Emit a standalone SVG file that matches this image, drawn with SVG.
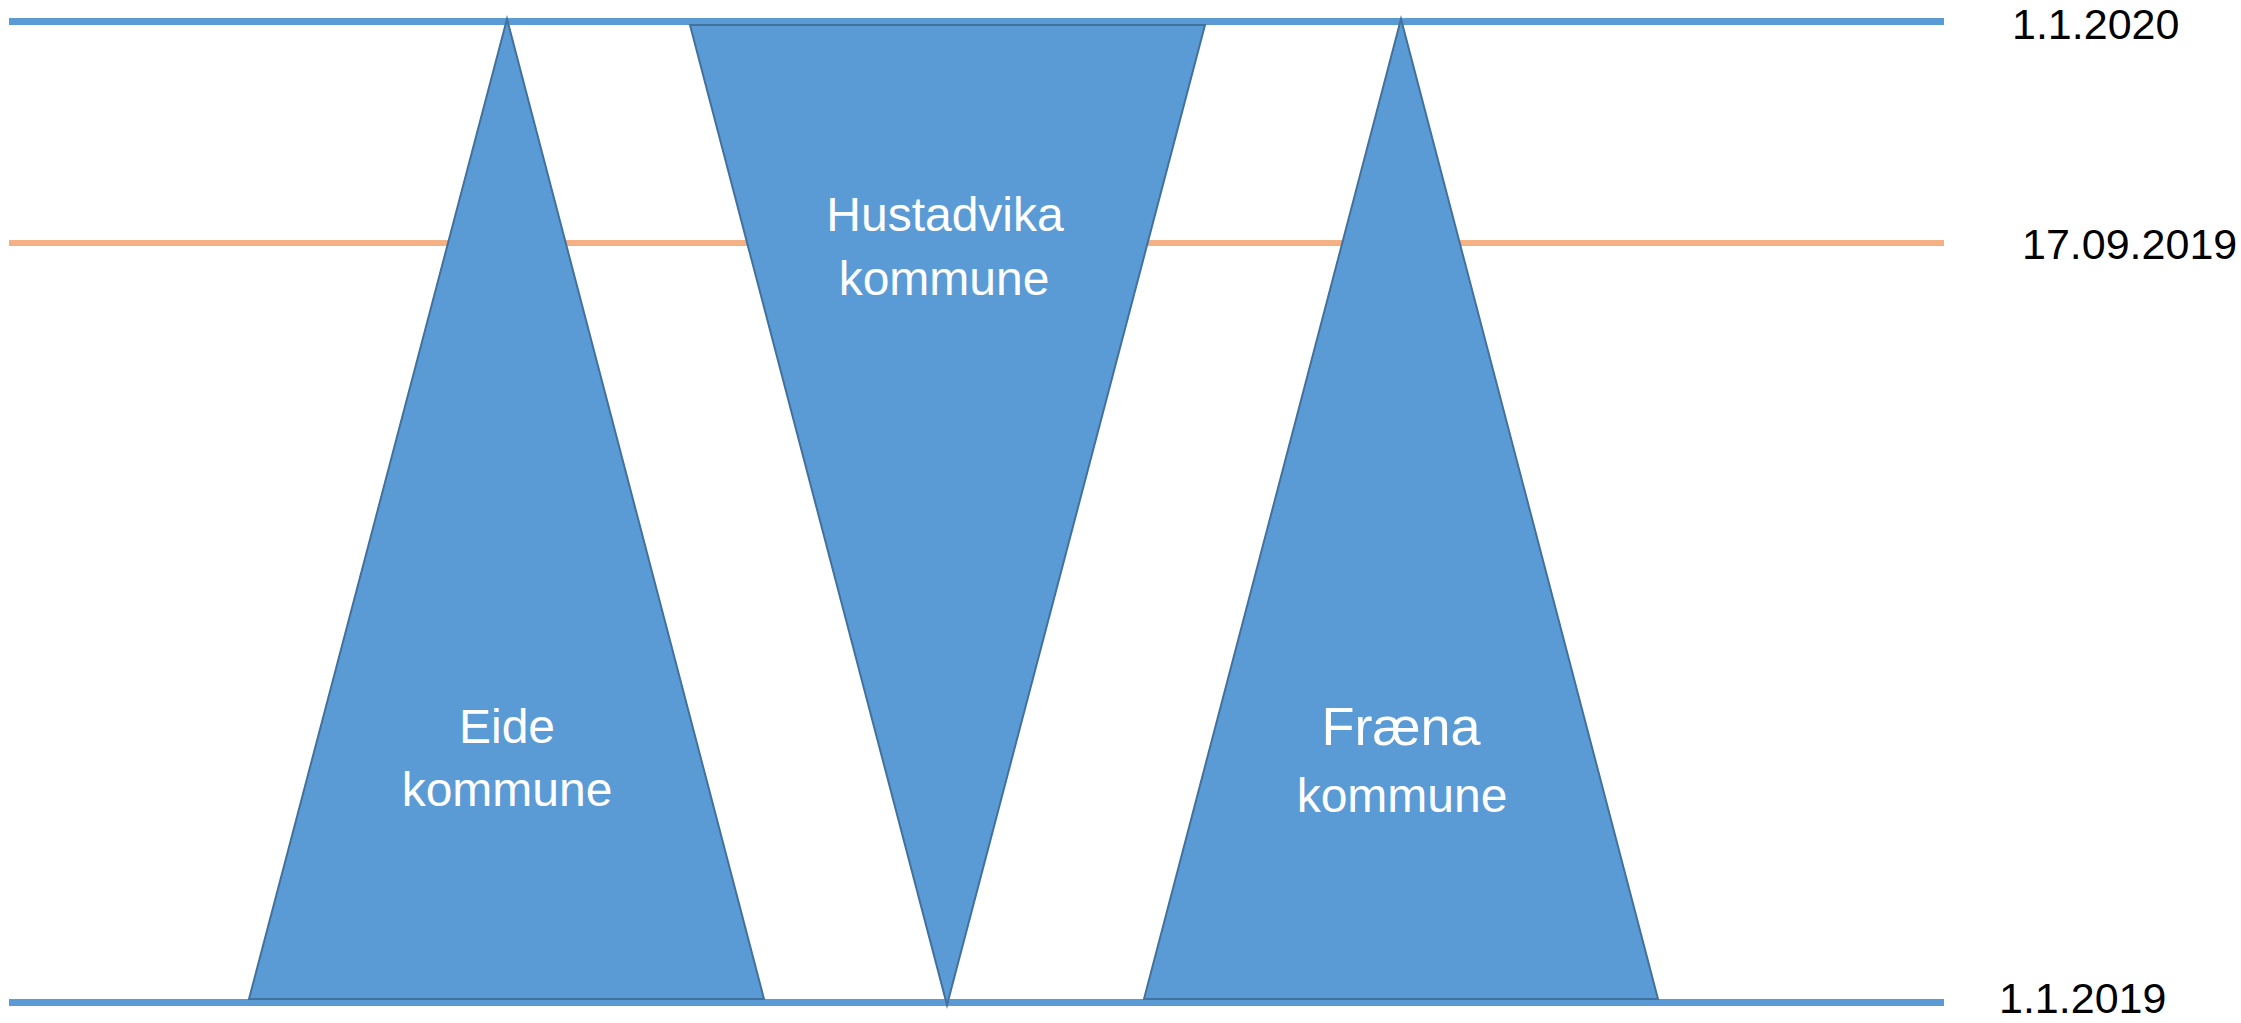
<svg xmlns="http://www.w3.org/2000/svg" width="2241" height="1023" viewBox="0 0 2241 1023">
<style>
.tl{stroke:#5B9BD5;stroke-width:7;fill:none}
.or{stroke:#F4B183;stroke-width:6;fill:none}
.tri{fill:#5B9BD5;stroke:#41719C;stroke-width:2;stroke-linejoin:miter}
.lab{font-family:"Liberation Sans",Arial,sans-serif;fill:#FFFFFF;text-anchor:middle}
.date{font-family:"Liberation Sans",Arial,sans-serif;fill:#000000;font-size:43px}
</style>
<rect width="2241" height="1023" fill="#FFFFFF"/>
<g id="connectors">
<line class="tl" x1="9" y1="21.5" x2="1944" y2="21.5"/>
<line class="or" x1="9" y1="243" x2="1944" y2="243"/>
<line class="tl" x1="9" y1="1002.5" x2="1944" y2="1002.5"/>
</g>
<g id="eide">
<polygon class="tri" points="507,19 249,999 764,999"/>
<text class="lab" font-size="48" x="507" y="743">Eide</text>
<text class="lab" font-size="48" x="507" y="806">kommune</text>
</g>
<g id="hustadvika">
<polygon class="tri" points="690,25 1205,25 947,1005"/>
<text class="lab" font-size="48" x="945" y="231">Hustadvika</text>
<text class="lab" font-size="48" x="944" y="295">kommune</text>
</g>
<g id="fraena">
<polygon class="tri" points="1401,19 1144,999 1658,999"/>
<text class="lab" font-size="54" x="1401" y="745">Fræna</text>
<text class="lab" font-size="48" x="1402" y="812">kommune</text>
</g>
<g id="dates">
<text class="date" x="2012" y="39">1.1.2020</text>
<text class="date" x="2022" y="259">17.09.2019</text>
<text class="date" x="1999" y="1013">1.1.2019</text>
</g>
</svg>
